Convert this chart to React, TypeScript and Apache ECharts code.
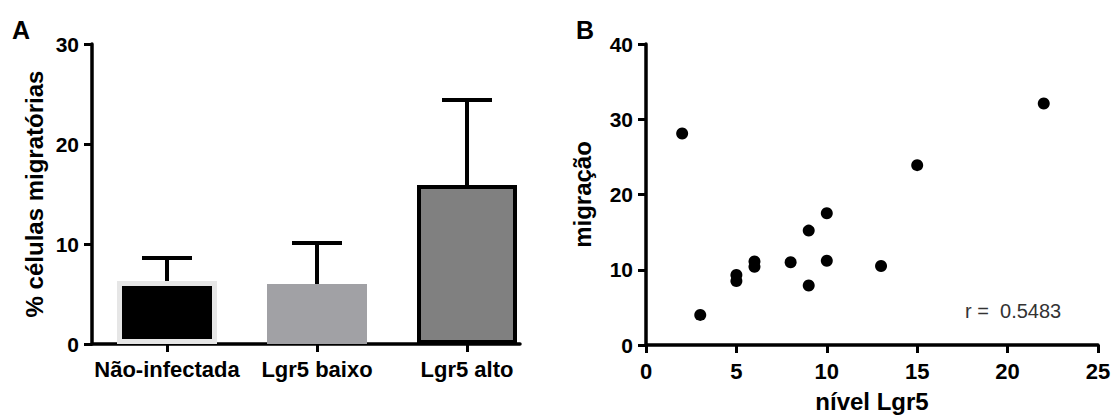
import React, { useEffect, useRef } from "react";
import * as echarts from "echarts";

// ---- data ----
const categories = ["Não-infectada", "Lgr5 baixo", "Lgr5 alto"];
const barMeans = [6.3, 6.0, 15.9];
const barErrTop = [8.6, 10.1, 24.4];

const scatterX = [2, 3, 5, 5, 6, 6, 8, 9, 9, 10, 10, 13, 15, 22];
const scatterY = [28.1, 4.0, 9.3, 8.5, 11.1, 10.4, 11.0, 15.2, 7.9, 17.5, 11.2, 10.5, 23.9, 32.1];

const correlationText = "r =  0.5483";

// ---- styles ----
const FONT = "'Liberation Sans', Arial, Helvetica, sans-serif";
const barStyles = [
  { color: "#000000", borderColor: "#e6e6e6", borderWidth: 5 },
  { color: "#a1a1a5", borderColor: "#a1a1a5", borderWidth: 4 },
  { color: "#808080", borderColor: "#000000", borderWidth: 4 },
];

const axisLine = { show: true, onZero: false, lineStyle: { color: "#000", width: 3.5 } };
const axisTick = { show: true, length: 8, lineStyle: { color: "#000", width: 3 } };
const nameStyle = { fontSize: 24, fontWeight: "bold" as const, color: "#000", fontFamily: FONT };
const yLabel = { fontSize: 21, fontWeight: "bold" as const, color: "#000", fontFamily: FONT, margin: 13 };

export default function App() {
  const ref = useRef<HTMLDivElement>(null);
  useEffect(() => {
    if (!ref.current) return;
    const chart = echarts.init(ref.current, undefined, { renderer: "svg" });
    const catIdx = categories.map((_, i) => i);
    chart.setOption({
      animation: false,
      backgroundColor: "#fff",
      textStyle: { fontFamily: FONT },
      grid: [
        { left: 92, top: 44, width: 428, height: 300, containLabel: false, outerBoundsMode: "none" },
        { left: 646, top: 44, width: 452, height: 301, containLabel: false, outerBoundsMode: "none" },
      ],
      xAxis: [
        {
          gridIndex: 0,
          type: "value",
          min: -0.5,
          max: -0.5 + 428 / 150,
          axisLine,
          axisTick: { ...axisTick, customValues: catIdx },
          splitLine: { show: false },
          axisLabel: {
            customValues: catIdx,
            formatter: (v: number) => categories[Math.round(v)] ?? "",
            fontSize: 22,
            fontWeight: "bold",
            color: "#000",
            fontFamily: FONT,
            margin: 14,
          },
        },
        {
          gridIndex: 1,
          type: "value",
          min: 0,
          max: 25,
          interval: 5,
          name: "nível Lgr5",
          nameLocation: "middle",
          nameGap: 44,
          nameTextStyle: nameStyle,
          axisLine,
          axisTick,
          splitLine: { show: false },
          axisLabel: { fontSize: 22, fontWeight: "bold", color: "#000", fontFamily: FONT, margin: 15 },
        },
      ],
      yAxis: [
        {
          gridIndex: 0,
          type: "value",
          min: 0,
          max: 30,
          interval: 10,
          name: "% células migratórias",
          nameLocation: "middle",
          nameGap: 46,
          nameTextStyle: nameStyle,
          axisLine,
          axisTick,
          splitLine: { show: false },
          axisLabel: yLabel,
        },
        {
          gridIndex: 1,
          type: "value",
          min: 0,
          max: 40,
          interval: 10,
          name: "migração",
          nameLocation: "middle",
          nameGap: 52,
          nameTextStyle: nameStyle,
          axisLine,
          axisTick,
          splitLine: { show: false },
          axisLabel: yLabel,
        },
      ],
      series: [
        {
          type: "bar",
          xAxisIndex: 0,
          yAxisIndex: 0,
          barWidth: 100,
          data: barMeans.map((v, i) => ({ value: [i, v], itemStyle: barStyles[i] })),
          z: 2,
        },
        {
          type: "custom",
          xAxisIndex: 0,
          yAxisIndex: 0,
          z: 3,
          data: barMeans.map((v, i) => [i, v, barErrTop[i]]),
          encode: { x: 0, y: [1, 2] },
          renderItem: (params: any, api: any) => {
            const x = api.value(0);
            const lo = api.coord([x, api.value(1)]);
            const hi = api.coord([x, api.value(2)]);
            const hw = 25;
            return {
              type: "group",
              children: [
                { type: "line", shape: { x1: lo[0], y1: lo[1], x2: hi[0], y2: hi[1] }, style: { stroke: "#000", lineWidth: 4 } },
                { type: "line", shape: { x1: hi[0] - hw, y1: hi[1], x2: hi[0] + hw, y2: hi[1] }, style: { stroke: "#000", lineWidth: 4 } },
              ],
            };
          },
        },
        {
          type: "scatter",
          xAxisIndex: 1,
          yAxisIndex: 1,
          symbol: "circle",
          symbolSize: 12,
          itemStyle: { color: "#000", opacity: 1 },
          data: scatterX.map((x, i) => [x, scatterY[i]]),
        },
      ],
      graphic: [
        { type: "text", x: 12, y: 17, style: { text: "A", fontSize: 25, fontWeight: "bold", fill: "#000", fontFamily: FONT } },
        { type: "text", x: 576, y: 17, style: { text: "B", fontSize: 25, fontWeight: "bold", fill: "#000", fontFamily: FONT } },
        { type: "text", x: 965, y: 301, style: { text: correlationText, fontSize: 20, fill: "#333", fontFamily: FONT } },
      ],
    });
    return () => chart.dispose();
  }, []);
  return <div ref={ref} style={{ position: "absolute", left: 0, top: 0, width: 1113, height: 415 }} />;
}
